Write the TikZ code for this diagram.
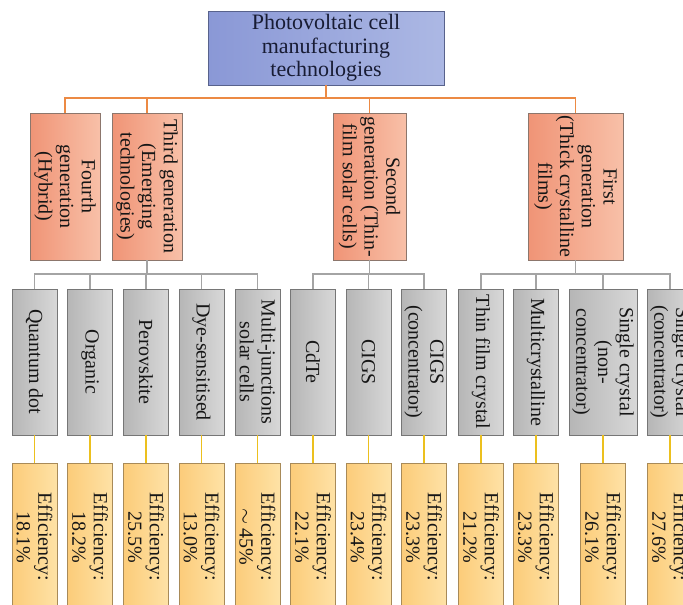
\documentclass[tikz,border=0pt]{standalone}
\usepackage{fontspec}
\setmainfont{Liberation Serif}
\definecolor{titleleft}{RGB}{138,152,214}
\definecolor{titleright}{RGB}{172,184,228}
\definecolor{titleborder}{RGB}{88,98,140}
\definecolor{titletext}{RGB}{24,28,52}
\definecolor{genleft}{RGB}{240,148,118}
\definecolor{genright}{RGB}{248,192,168}
\definecolor{genborder}{RGB}{140,118,108}
\definecolor{techleft}{RGB}{182,182,182}
\definecolor{techright}{RGB}{216,216,216}
\definecolor{techborder}{RGB}{118,118,118}
\definecolor{effleft}{RGB}{252,204,122}
\definecolor{effright}{RGB}{254,226,166}
\definecolor{effborder}{RGB}{168,138,88}
\definecolor{linkorange}{RGB}{236,138,68}
\definecolor{linkgrey}{RGB}{164,164,164}
\definecolor{linkyellow}{RGB}{236,192,30}
\definecolor{textdark}{RGB}{22,22,22}
\tikzset{
        treenode/.style={align=center, inner sep=0pt, text=textdark, font=\fontsize{20}{21.7}\selectfont},
        % Title node
        node_title/.style={treenode, rectangle, draw=titleborder, left color=titleleft, right color=titleright, minimum width=236pt, minimum height=74pt, text=titletext, font=\fontsize{22}{23.3}\selectfont},
        % Generation nodes
        node_generation/.style={treenode, rectangle, rotate=-90, draw=genborder, left color=genleft, right color=genright, minimum width=147pt, minimum height=70pt},
        % Technology nodes
        node_technology/.style={treenode, rectangle, rotate=-90, draw=techborder, left color=techleft, right color=techright, minimum width=146pt, minimum height=45pt},
        % Efficiency nodes
        node_efficiency/.style={treenode, rectangle, rotate=-90, draw=effborder, left color=effleft, right color=effright, minimum width=148pt, minimum height=45pt},
        % Connectors
        link_orange/.style={draw=linkorange, line width=1.6pt},
        link_grey/.style={draw=linkgrey, line width=1.6pt},
        link_yellow/.style={draw=linkyellow, line width=1.8pt}
}
\begin{document}
\begin{tikzpicture}[x=1pt, y=-1pt]
            \useasboundingbox (0,0) rectangle (683,605);
            \clip (0,0) rectangle (683,605);
            % root
            \node[node_title] (title) at (326,48) {Photovoltaic cell\\manufacturing\\technologies};
            % generations
            \node[node_generation] (fourth) at (65,186.5) {Fourth\\generation\\(Hybrid)};
            \node[node_generation] (third) at (147,186.5) {Third generation\\(Emerging\\technologies)};
            \node[node_generation, minimum height=73pt] (second) at (369.5,186.5) {Second\\generation (Thin-\\film solar cells)};
            \node[node_generation, minimum height=95pt] (first) at (575.5,186.5) {First\\generation\\(Thick crystalline\\films)};
            % technologies
            \node[node_technology] (quantum_dot) at (34.5,362) {Quantum dot};
            \node[node_technology] (organic) at (90,362) {Organic};
            \node[node_technology] (perovskite) at (146,362) {Perovskite};
            \node[node_technology] (dye) at (201.5,362) {Dye-sensitised};
            \node[node_technology] (multi_junction) at (257.5,362) {Multi-junctions\\solar cells};
            \node[node_technology] (cdte) at (313,362) {CdTe};
            \node[node_technology] (cigs) at (368.5,362) {CIGS};
            \node[node_technology] (cigs_conc) at (424,362) {CIGS\\(concentrator)};
            \node[node_technology] (thin_film) at (481,362) {Thin film crystal};
            \node[node_technology] (multicrystal) at (536,362) {Multicrystalline};
            \node[node_technology, minimum height=68pt] (single_nonconc) at (603,362) {Single crystal\\(non-\\concentrator)};
            \node[node_technology] (single_conc) at (670,362) {Single crystal\\(concentrator)};
            % efficiencies
            \node[node_efficiency] (eff_quantum_dot) at (34.5,537) {Efficiency:\\18.1\%};
            \node[node_efficiency] (eff_organic) at (90,537) {Efficiency:\\18.2\%};
            \node[node_efficiency] (eff_perovskite) at (146,537) {Efficiency:\\25.5\%};
            \node[node_efficiency] (eff_dye) at (201.5,537) {Efficiency:\\13.0\%};
            \node[node_efficiency] (eff_multi_junction) at (257.5,537) {Efficiency:\\$\sim$\,45\%};
            \node[node_efficiency] (eff_cdte) at (313,537) {Efficiency:\\22.1\%};
            \node[node_efficiency] (eff_cigs) at (368.5,537) {Efficiency:\\23.4\%};
            \node[node_efficiency] (eff_cigs_conc) at (424,537) {Efficiency:\\23.3\%};
            \node[node_efficiency] (eff_thin_film) at (481,537) {Efficiency:\\21.2\%};
            \node[node_efficiency] (eff_multicrystal) at (536,537) {Efficiency:\\23.3\%};
            \node[node_efficiency] (eff_single_nonconc) at (603,537) {Efficiency:\\26.1\%};
            \node[node_efficiency] (eff_single_conc) at (670,537) {Efficiency:\\27.6\%};
            % root to generations
            \coordinate (bus_title) at (326,98);
            \draw[link_orange] (title.south) -- (bus_title);
            \draw[link_orange] (bus_title) -| (fourth.west);
            \draw[link_orange] (bus_title) -| (third.west);
            \draw[link_orange] (bus_title) -| (second.west);
            \draw[link_orange] (bus_title) -| (first.west);
            % generations to technologies
            \coordinate (bus_third) at (147,274);
            \draw[link_grey] (third.east) -- (bus_third);
            \draw[link_grey] (bus_third) -| (quantum_dot.west);
            \draw[link_grey] (bus_third) -| (organic.west);
            \draw[link_grey] (bus_third) -| (perovskite.west);
            \draw[link_grey] (bus_third) -| (dye.west);
            \draw[link_grey] (bus_third) -| (multi_junction.west);
            \coordinate (bus_second) at (369.5,274);
            \draw[link_grey] (second.east) -- (bus_second);
            \draw[link_grey] (bus_second) -| (cdte.west);
            \draw[link_grey] (bus_second) -| (cigs.west);
            \draw[link_grey] (bus_second) -| (cigs_conc.west);
            \coordinate (bus_first) at (575.5,274);
            \draw[link_grey] (first.east) -- (bus_first);
            \draw[link_grey] (bus_first) -| (thin_film.west);
            \draw[link_grey] (bus_first) -| (multicrystal.west);
            \draw[link_grey] (bus_first) -| (single_nonconc.west);
            \draw[link_grey] (bus_first) -| (single_conc.west);
            % technologies to efficiencies
            \draw[link_yellow] (quantum_dot.east) -- (eff_quantum_dot.west);
            \draw[link_yellow] (organic.east) -- (eff_organic.west);
            \draw[link_yellow] (perovskite.east) -- (eff_perovskite.west);
            \draw[link_yellow] (dye.east) -- (eff_dye.west);
            \draw[link_yellow] (multi_junction.east) -- (eff_multi_junction.west);
            \draw[link_yellow] (cdte.east) -- (eff_cdte.west);
            \draw[link_yellow] (cigs.east) -- (eff_cigs.west);
            \draw[link_yellow] (cigs_conc.east) -- (eff_cigs_conc.west);
            \draw[link_yellow] (thin_film.east) -- (eff_thin_film.west);
            \draw[link_yellow] (multicrystal.east) -- (eff_multicrystal.west);
            \draw[link_yellow] (single_nonconc.east) -- (eff_single_nonconc.west);
            \draw[link_yellow] (single_conc.east) -- (eff_single_conc.west);
        \end{tikzpicture}
\end{document}
